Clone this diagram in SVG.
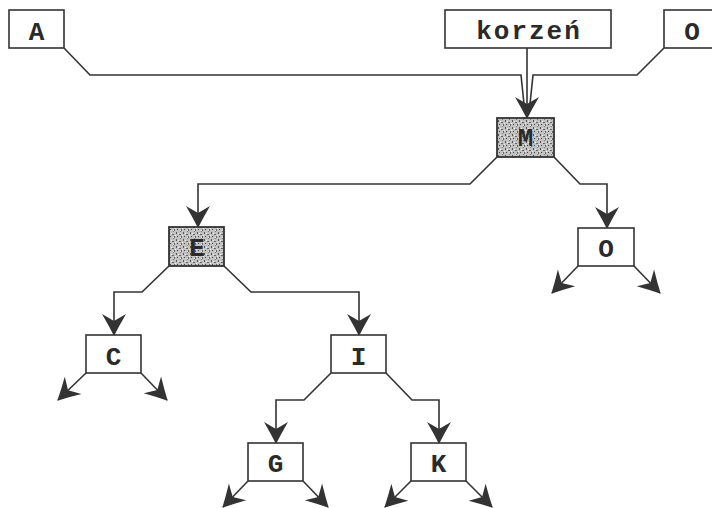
<svg xmlns="http://www.w3.org/2000/svg" width="712" height="508" viewBox="0 0 712 508">
<style>
.box{fill:#fff;stroke:#333;stroke-width:1.6}
.shade{fill:url(#stip);stroke:#333;stroke-width:1.8}
.lbl{font-family:"Liberation Mono","Courier New",monospace;font-weight:bold;font-size:26px;fill:#2a2a2a;text-anchor:middle}
.wide{font-size:26px;letter-spacing:2px}
.con{fill:none;stroke:#333;stroke-width:1.6}
.arr{marker-end:url(#ah)}
</style>
<defs>
<marker id="ah" markerUnits="userSpaceOnUse" markerWidth="26" markerHeight="28" viewBox="-24 -14 26 28" refX="0" refY="0" orient="auto" overflow="visible">
<path d="M1,0 Q-9,-5 -21,-12 L-14,0 L-21,12 Q-9,5 1,0 Z" fill="#333"/>
</marker>
<pattern id="stip" patternUnits="userSpaceOnUse" width="7" height="7">
<rect width="7" height="7" fill="#c2c2c2"/>
<rect x="1" y="1" width="1" height="2" fill="#555"/>
<rect x="4" y="3" width="2" height="1" fill="#666"/>
<rect x="2" y="5" width="1" height="1" fill="#444"/>
<rect x="5" y="0" width="1" height="1" fill="#777"/>
<rect x="6" y="5" width="1" height="2" fill="#666"/>
<rect x="0" y="4" width="1" height="1" fill="#eee"/>
<rect x="3" y="2" width="1" height="1" fill="#f2f2f2"/>
<rect x="5" y="6" width="1" height="1" fill="#e8e8e8"/>
</pattern>
</defs>
<g id="connectors">
<path class="con" d="M64,48 L90,75 L521,75 L524,104"/>
<path class="con" d="M664,48 L637,75 L533,75 L530,104"/>
<path class="con arr" d="M527,48 L527,118"/>
<path class="con arr" d="M497,157 L470,184 L198,184 L198,227"/>
<path class="con arr" d="M554,157 L580,184 L607,184 L607,228"/>
<path class="con arr" d="M578,266 L552,293"/>
<path class="con arr" d="M634,266 L660,293"/>
<path class="con arr" d="M169,266 L142,292 L114,292 L114,335"/>
<path class="con arr" d="M224,266 L251,292 L359,292 L359,335"/>
<path class="con arr" d="M86,373 L58,400"/>
<path class="con arr" d="M141,373 L167,400"/>
<path class="con arr" d="M331,373 L304,400 L276,400 L276,443"/>
<path class="con arr" d="M386,373 L412,400 L439,400 L439,443"/>
<path class="con arr" d="M248,481 L223,507"/>
<path class="con arr" d="M303,481 L328,507"/>
<path class="con arr" d="M411,481 L385,507"/>
<path class="con arr" d="M466,481 L492,507"/>
</g>
<g id="node-A"><rect class="box" x="9" y="10" width="55" height="38"/><text class="lbl" x="36.5" y="40">A</text></g>
<g id="node-korzen"><rect class="box" x="445" y="10" width="166" height="38"/><text class="lbl wide" x="529" y="39">korzeń</text></g>
<g id="node-O-top"><rect class="box" x="664" y="10" width="60" height="38"/><text class="lbl" x="692" y="40">O</text></g>
<g id="node-M"><rect class="shade" x="497" y="118" width="57" height="39"/><text class="lbl" x="525.5" y="146">M</text></g>
<g id="node-E"><rect class="shade" x="169" y="227" width="55" height="39"/><text class="lbl" x="197" y="256">E</text></g>
<g id="node-O"><rect class="box" x="578" y="228" width="56" height="38"/><text class="lbl" x="606" y="257">O</text></g>
<g id="node-C"><rect class="box" x="86" y="335" width="55" height="38"/><text class="lbl" x="113.5" y="365">C</text></g>
<g id="node-I"><rect class="box" x="331" y="335" width="55" height="38"/><text class="lbl" x="358.5" y="365">I</text></g>
<g id="node-G"><rect class="box" x="248" y="443" width="55" height="38"/><text class="lbl" x="275.5" y="472">G</text></g>
<g id="node-K"><rect class="box" x="411" y="443" width="55" height="38"/><text class="lbl" x="438.5" y="472">K</text></g>
</svg>
